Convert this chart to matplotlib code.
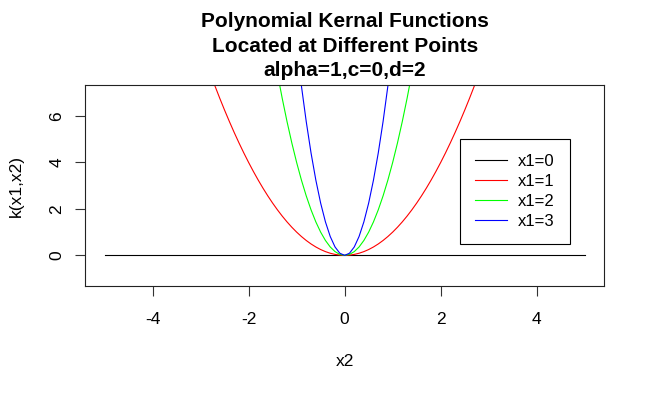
import matplotlib
matplotlib.use("Agg")
import matplotlib.pyplot as plt

plt.rcParams['font.family'] = ['Liberation Sans', 'DejaVu Sans']

# x2 grid
x2 = [-5, -4,
      -3.0, -2.9, -2.8, -2.7, -2.6, -2.5, -2.4, -2.3, -2.2, -2.1,
      -2.0, -1.9, -1.8, -1.7, -1.6, -1.5, -1.4, -1.3, -1.2, -1.1,
      -1.0, -0.9, -0.8, -0.7, -0.6, -0.5, -0.4, -0.3, -0.2, -0.1,
      0.0,
      0.1, 0.2, 0.3, 0.4, 0.5, 0.6, 0.7, 0.8, 0.9, 1.0,
      1.1, 1.2, 1.3, 1.4, 1.5, 1.6, 1.7, 1.8, 1.9, 2.0,
      2.1, 2.2, 2.3, 2.4, 2.5, 2.6, 2.7, 2.8, 2.9, 3.0,
      4, 5]

k_x1_0 = [0] * 65

k_x1_1 = [25, 16,
          9, 8.41, 7.84, 7.29, 6.76, 6.25, 5.76, 5.29, 4.84, 4.41,
          4, 3.61, 3.24, 2.89, 2.56, 2.25, 1.96, 1.69, 1.44, 1.21,
          1, 0.81, 0.64, 0.49, 0.36, 0.25, 0.16, 0.09, 0.04, 0.01,
          0,
          0.01, 0.04, 0.09, 0.16, 0.25, 0.36, 0.49, 0.64, 0.81, 1,
          1.21, 1.44, 1.69, 1.96, 2.25, 2.56, 2.89, 3.24, 3.61, 4,
          4.41, 4.84, 5.29, 5.76, 6.25, 6.76, 7.29, 7.84, 8.41, 9,
          16, 25]

k_x1_2 = [100, 64,
          36, 33.64, 31.36, 29.16, 27.04, 25, 23.04, 21.16, 19.36, 17.64,
          16, 14.44, 12.96, 11.56, 10.24, 9, 7.84, 6.76, 5.76, 4.84,
          4, 3.24, 2.56, 1.96, 1.44, 1, 0.64, 0.36, 0.16, 0.04,
          0,
          0.04, 0.16, 0.36, 0.64, 1, 1.44, 1.96, 2.56, 3.24, 4,
          4.84, 5.76, 6.76, 7.84, 9, 10.24, 11.56, 12.96, 14.44, 16,
          17.64, 19.36, 21.16, 23.04, 25, 27.04, 29.16, 31.36, 33.64, 36,
          64, 100]

k_x1_3 = [225, 144,
          81, 75.69, 70.56, 65.61, 60.84, 56.25, 51.84, 47.61, 43.56, 39.69,
          36, 32.49, 29.16, 26.01, 23.04, 20.25, 17.64, 15.21, 12.96, 10.89,
          9, 7.29, 5.76, 4.41, 3.24, 2.25, 1.44, 0.81, 0.36, 0.09,
          0,
          0.09, 0.36, 0.81, 1.44, 2.25, 3.24, 4.41, 5.76, 7.29, 9,
          10.89, 12.96, 15.21, 17.64, 20.25, 23.04, 26.01, 29.16, 32.49, 36,
          39.69, 43.56, 47.61, 51.84, 56.25, 60.84, 65.61, 70.56, 75.69, 81,
          144, 225]

series = [k_x1_0, k_x1_1, k_x1_2, k_x1_3]
labels = ["x1=0", "x1=1", "x1=2", "x1=3"]
colors = ["black", "#FF0000", "#00FF00", "#0000FF"]

title_lines = ["Polynomial Kernal Functions",
               "Located at Different Points",
               "alpha=1,c=0,d=2"]
x_ticks = [-4, -2, 0, 2, 4]
y_ticks = [0, 2, 4, 6]

W, H = 648, 393
fig = plt.figure(figsize=(W / 100, H / 100), dpi=100)
L, R, T, B = 85.3, 604, 85.3, 286
ax = fig.add_axes([L / W, 1 - B / H, (R - L) / W, (B - T) / H])

for ys, lab, col in zip(series, labels, colors):
    ax.plot(x2, ys, color=col, lw=0.8, label=lab)

ax.set_xlim(-5.4, 5.4)
ax.set_ylim(-1.32, 7.32)
ax.set_xticks(x_ticks)
ax.set_yticks(y_ticks)
ax.set_xticklabels([str(t) for t in x_ticks])
ax.set_yticklabels([str(t) for t in y_ticks], rotation=90, va='center')
ax.tick_params(axis='both', length=7, width=0.8, labelsize=12.5, color='#333333')
ax.tick_params(axis='x', pad=12)
ax.tick_params(axis='y', pad=8)
for s in ax.spines.values():
    s.set_linewidth(0.8)
    s.set_color('#222222')

ax.set_xlabel("x2", fontsize=12.5, labelpad=19)
ax.set_ylabel("k(x1,x2)", fontsize=12.5, labelpad=18.5)

baselines = [26.7, 52, 76]
for txt, yb in zip(title_lines, baselines):
    fig.text((L + R) / 2 / W, 1 - yb / H, txt, ha='center', va='baseline',
             fontsize=15, fontweight='bold')

leg = ax.legend(loc='upper left',
                bbox_to_anchor=(460.3 / W, 1 - 139.3 / H),
                bbox_transform=fig.transFigure,
                fontsize=12, frameon=True, fancybox=False, framealpha=1,
                edgecolor='black', borderaxespad=0, handlelength=1.9,
                handletextpad=0.65, labelspacing=0.3, borderpad=0.9)
leg.get_frame().set_linewidth(0.8)

fig.savefig("out.png", dpi=100)
